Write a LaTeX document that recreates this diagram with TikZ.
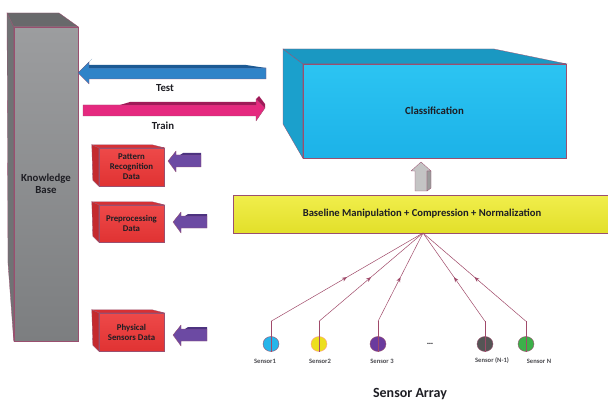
\documentclass[tikz,border=0pt]{standalone}
\usepackage{fontspec}
\setmainfont{Carlito}
\usetikzlibrary{decorations.markings,arrows.meta,shapes.geometric,calc}
\definecolor{edgec}{HTML}{9A4F6F}
\definecolor{kbtop}{HTML}{9C9D9F}
\definecolor{kbbot}{HTML}{7C7E80}
\definecolor{kbside}{HTML}{707274}
\definecolor{kbtopf}{HTML}{68696B}
\definecolor{tblue}{HTML}{2F83C8}
\definecolor{tbluedk}{HTML}{1C5A94}
\definecolor{tpink}{HTML}{E5297F}
\definecolor{tpinkdk}{HTML}{A01A58}
\definecolor{bred}{HTML}{EC3535}
\definecolor{bredside}{HTML}{C42A2E}
\definecolor{bredtop}{HTML}{D63034}
\definecolor{purp}{HTML}{6C4AA3}
\definecolor{purpdk}{HTML}{4D3380}
\definecolor{clstop}{HTML}{2CC4F2}
\definecolor{clsbot}{HTML}{1CB2E8}
\definecolor{clsside}{HTML}{1BA0CC}
\definecolor{ylw}{HTML}{EEEB2C}
\definecolor{grayar}{HTML}{C4C4C4}
\definecolor{grayardk}{HTML}{9A9A9A}
\definecolor{sline}{HTML}{A04A6A}
\definecolor{txt}{HTML}{1E1E24}
\definecolor{sa}{HTML}{26B5EA}
\definecolor{sb}{HTML}{ECDF1E}
\definecolor{sc}{HTML}{6B3B9E}
\definecolor{sd}{HTML}{555555}
\definecolor{se}{HTML}{3CB04A}
\begin{document}
\begin{tikzpicture}[x=1pt,y=-1pt,
  every node/.style={text=txt},
  kbfront/.style={minimum width=64pt, minimum height=314pt, inner sep=0pt,
    top color=kbtop, bottom color=kbbot, draw=edgec, line width=0.5pt,
    align=center, font=\fontsize{10.8}{12}\selectfont\bfseries},
  redbox/.style={minimum width=65pt, minimum height=38pt, inner sep=0pt,
    top color=bred!90!white, bottom color=bred!95!black, draw=edgec, line width=0.4pt,
    align=center, font=\fontsize{8.8}{10}\selectfont\bfseries},
  clsbox/.style={minimum width=263pt, minimum height=94pt, inner sep=0pt,
    top color=clstop, bottom color=clsbot, draw=edgec, line width=0.4pt,
    font=\fontsize{10.8}{12}\selectfont\bfseries},
  ybox/.style={minimum width=378pt, minimum height=38pt, inner sep=0pt,
    top color=ylw!85!white, bottom color=ylw!95!black, draw=edgec, line width=0.4pt,
    font=\fontsize{10.6}{12}\selectfont\bfseries},
  sensor/.style={ellipse, minimum width=16pt, minimum height=15pt, inner sep=0pt,
    draw=edgec, line width=0.4pt},
  slabel/.style={font=\fontsize{6.6}{8}\selectfont\bfseries, text=txt!80},
  arlabel/.style={font=\fontsize{10.8}{12}\selectfont\bfseries},
  conn/.style={draw=sline, line width=0.5pt},
  midarrow/.style={decoration={markings,
    mark=at position 0.5 with {\arrow[sline]{Stealth[length=5pt,width=4pt]}}},
    postaction={decorate}},
  blk/.style={draw=edgec, line width=0.3pt, line join=round}
]
\useasboundingbox (0,0) rectangle (608,401);
\fill[white] (0,0) rectangle (608,401);

% Knowledge base
\node[kbfront] (kb) at (46,184) {Knowledge\\Base};
\fill[kbside, draw=edgec, line width=0.3pt] (7,13) -- (kb.north west) -- (kb.south west) -- (8,263) -- cycle;
\fill[kbtopf, draw=edgec, line width=0.3pt] (7,13) -- (59,13) -- (kb.north east) -- (kb.north west) -- cycle;

% Test arrow (blue, left)
\fill[tblue, blk] (266,68) -- (89,68) -- (89,62) -- (78,73) -- (89,84) -- (89,79) -- (266,79) -- cycle;
\fill[tbluedk] (89,68) -- (89,65) -- (246,65) -- (266,68) -- cycle;
\fill[tbluedk] (89,62) -- (92,59) -- (82,69) -- (78,73) -- cycle;
\node[arlabel] (test) at (165,88) {Test};

% Train arrow (pink, right)
\fill[tpink, blk] (83,105) -- (256,105) -- (256,99) -- (265,108) -- (256,121) -- (256,116) -- (83,116) -- cycle;
\fill[tpinkdk] (120,105) -- (130,102) -- (256,102) -- (256,105) -- cycle;
\fill[tpinkdk] (256,99) -- (259,96) -- (265,104) -- (265,108) -- cycle;
\node[arlabel] (train) at (163,126) {Train};

% Red boxes
\node[redbox] (prd) at (131.5,167) {Pattern\\Recognition\\Data};
\node[redbox, minimum height=37pt] (ppd) at (131.5,223.5) {Preprocessing\\Data};
\node[redbox] (psd) at (131.5,332) {Physical\\Sensors Data};
\foreach \b in {prd,ppd,psd}{
  \fill[bredside, draw=edgec, line width=0.3pt] ($(\b.north west)+(-7,-3)$) -- (\b.north west) -- (\b.south west) -- ($(\b.south west)+(-6,-6)$) -- cycle;
  \fill[bredtop, draw=edgec, line width=0.3pt] ($(\b.north west)+(-7,-3)$) -- ($(\b.north east)+(-12,-3)$) -- (\b.north east) -- (\b.north west) -- cycle;
}

% Purple arrows (left)
\fill[purp, blk] (201,155) -- (176,155) -- (176,151) -- (168,161) -- (176,172) -- (176,167) -- (201,167) -- cycle;
\fill[purpdk] (180,155) -- (183,153) -- (201,153) -- (201,155) -- cycle;
\fill[purp, blk] (207,216) -- (181,216) -- (181,212) -- (173,222) -- (181,233) -- (181,228) -- (207,228) -- cycle;
\fill[purpdk] (185,216) -- (188,214) -- (207,214) -- (207,216) -- cycle;
\fill[purp, blk] (207,329) -- (181,329) -- (181,325) -- (173,335) -- (181,346) -- (181,341) -- (207,341) -- cycle;
\fill[purpdk] (185,329) -- (188,327) -- (207,327) -- (207,329) -- cycle;

% Classification
\node[clsbox] (cls) at (434.5,111) {Classification};
\fill[clsside, draw=edgec, line width=0.3pt] (283,49) -- (cls.north west) -- (cls.south west) -- (283,124) -- cycle;
\fill[clsside!95!black, draw=edgec, line width=0.3pt] (283,49) -- (494,49) -- (cls.north east) -- (cls.north west) -- cycle;

% Gray up arrow
\fill[grayar, blk] (415,191) -- (415,171) -- (411,171) -- (421,162) -- (431,171) -- (427,171) -- (427,191) -- cycle;
\fill[grayardk, blk] (427,191) -- (427,171) -- (431,171) -- (431,188) -- cycle;

% Yellow box
\node[ybox] (yb) at (422,214) {Baseline Manipulation + Compression + Normalization};

% Sensors
\coordinate (hub) at (423,233);
\node[sensor, fill=sa] (s1) at (271,344) {};
\node[sensor, fill=sb, draw=pink!80!red] (s2) at (319,344) {};
\node[sensor, fill=sc] (s3) at (378,344) {};
\node[sensor, fill=sd] (s4) at (485,344) {};
\node[sensor, fill=se] (s5) at (526,344) {};
\foreach \s in {s1,s2,s3,s4,s5}{
  \draw[conn] (\s.north) -- (\s.south);
  \coordinate (b\s) at ($(\s.north)+(0,-15)$);
  \draw[conn] (\s.north) -- (b\s);
  \draw[conn, midarrow] (b\s) -- (hub);
}
\node[font=\fontsize{9}{10}\selectfont\bfseries] (dots) at (430,344) {\ldots};

\node[slabel] (l1) at (265,361) {Sensor1};
\node[slabel] (l2) at (320,361) {Sensor2};
\node[slabel] (l3) at (382,361) {Sensor 3};
\node[slabel] (l4) at (492,361) {Sensor (N-1)};
\node[slabel] (l5) at (539,361) {Sensor N};

\node[font=\fontsize{14}{16}\selectfont\bfseries, anchor=base] (sarr) at (410,397) {Sensor Array};
\end{tikzpicture}
\end{document}
